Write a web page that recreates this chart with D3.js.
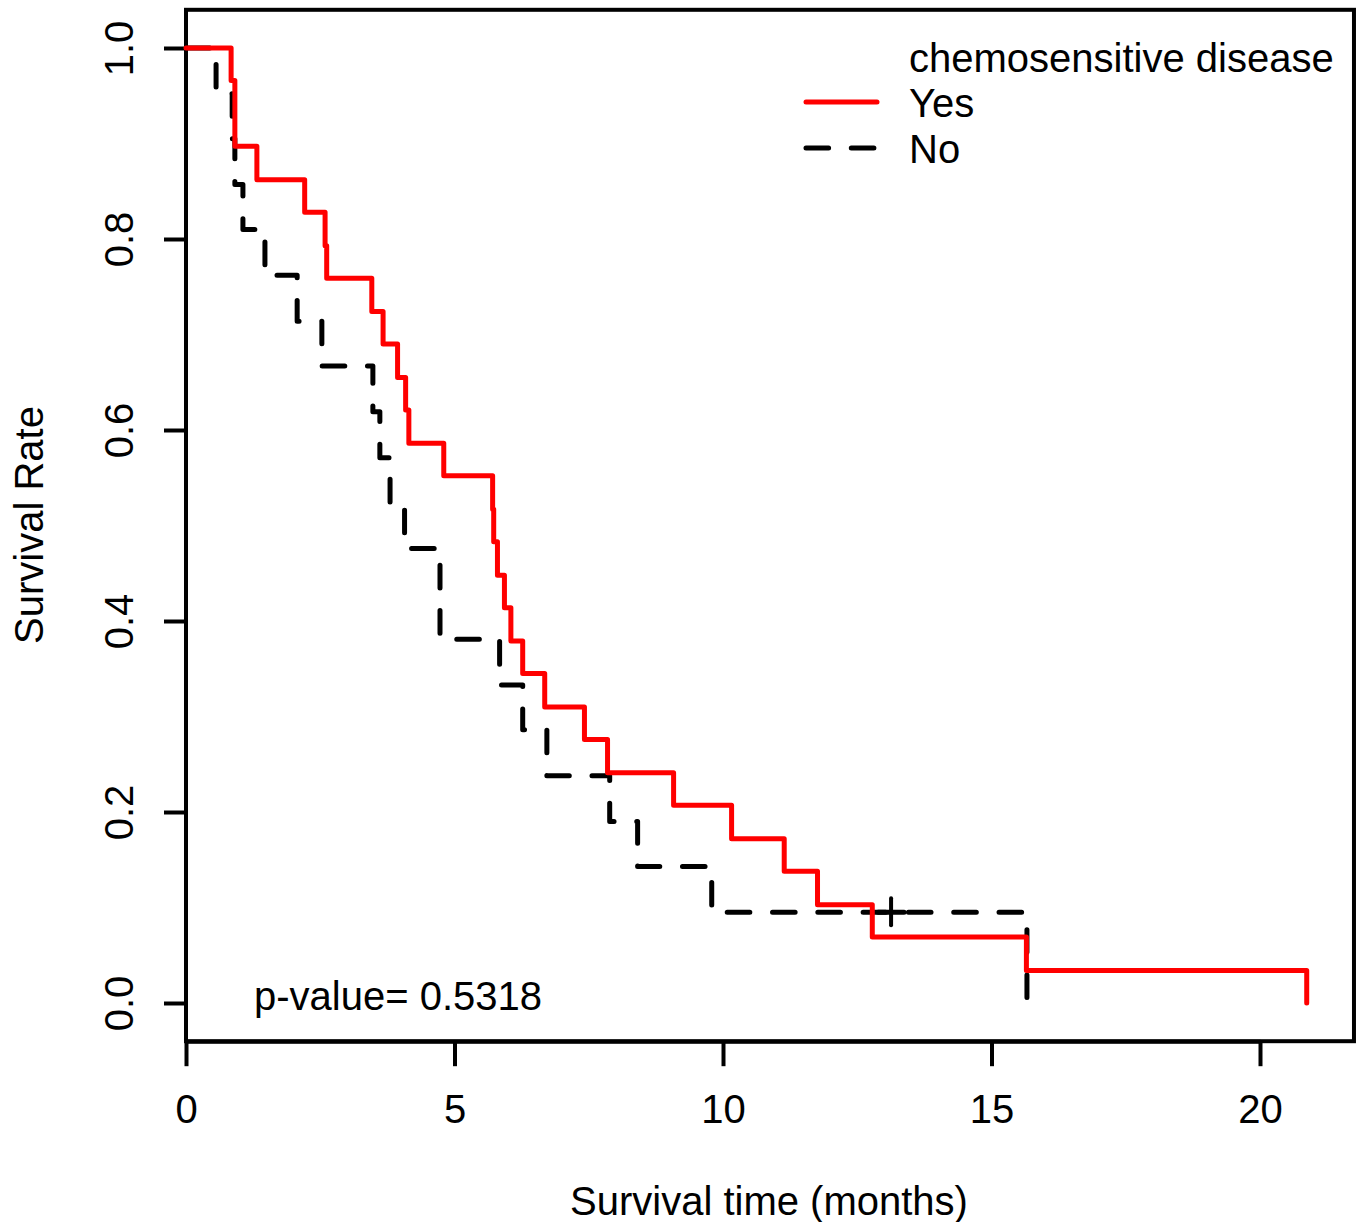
<!DOCTYPE html>
<html>
<head>
<meta charset="utf-8">
<script src="https://cdn.jsdelivr.net/npm/d3@7"></script>
<style>
  body { margin: 0; background: #fff; }
  svg text { font-family: "Liberation Sans", Arial, sans-serif; fill: #000; }
</style>
</head>
<body>
<div class="chart"></div>
<script>
// Kaplan-Meier estimates (months, survival)
var yesTime = [0, 0.84, 0.91, 1.32, 2.21, 2.59, 2.62, 3.46, 3.67, 3.94, 4.09, 4.15, 4.80, 5.71, 5.73,
  5.80, 5.93, 6.05, 6.27, 6.68, 7.42, 7.85, 9.08, 10.16, 11.14, 11.76, 12.78, 15.65, 20.87];
var yesSurv = [1, 0.966, 0.897, 0.862, 0.828, 0.793, 0.759, 0.724, 0.690, 0.655, 0.621, 0.586, 0.552, 0.517, 0.483,
  0.448, 0.414, 0.379, 0.345, 0.310, 0.276, 0.241, 0.207, 0.172, 0.138, 0.103, 0.069, 0.034, 0];

var noTime = [0, 0.56, 0.86, 0.91, 1.06, 1.47, 2.07, 2.53, 3.48, 3.61, 3.80, 4.07, 4.73, 5.84, 6.27,
  6.72, 7.89, 8.41, 9.79, 15.66];
var noSurv = [1, 0.952, 0.905, 0.857, 0.810, 0.762, 0.714, 0.667, 0.619, 0.571, 0.524, 0.476, 0.381, 0.333, 0.286,
  0.238, 0.190, 0.143, 0.095, 0];
var noCensorTime = [13.13];
var noCensorSurv = [0.095];

var xTicks = [0, 5, 10, 15, 20];
var yTicks = [0, 0.2, 0.4, 0.6, 0.8, 1.0];
var legendTitle = "chemosensitive disease";
var legendLabels = ["Yes", "No"];
var pText = "p-value= 0.5318";

var width = 1361;
var height = 1222;
var fontSize = 40;
var dash = "22.6,22.7";

var x = d3.scaleLinear().domain([0, 20]).range([186, 1260]);
var y = d3.scaleLinear().domain([0, 1]).range([1003, 48]);

var svg = d3.select(".chart")
    .append("svg")
    .attr("width", width)
    .attr("height", height);

svg.append("rect")
    .attr("width", width)
    .attr("height", height)
    .attr("fill", "#fff");

// plot box
svg.append("rect")
    .attr("x", x(0))
    .attr("y", y(1.04))
    .attr("width", x(21.75) - x(0))
    .attr("height", y(-0.04) - y(1.04))
    .attr("fill", "none")
    .attr("stroke", "#000")
    .attr("stroke-width", 4);

// x axis
var gx = svg.append("g")
    .attr("transform", "translate(0," + y(-0.04) + ")")
    .call(d3.axisBottom(x).tickValues(xTicks).tickSize(25).tickSizeOuter(0));
gx.select(".domain").attr("stroke-width", 4);
gx.selectAll(".tick line").attr("stroke-width", 4);
gx.selectAll(".tick text")
    .attr("y", 82)
    .attr("dy", null)
    .style("font-size", fontSize + "px")
    .style("font-family", "Liberation Sans, Arial, sans-serif");

// y axis
var gy = svg.append("g")
    .attr("transform", "translate(" + x(0) + ",0)")
    .call(d3.axisLeft(y).tickValues(yTicks).tickSize(22).tickSizeOuter(0).tickFormat(d3.format(".1f")));
gy.select(".domain").remove();
gy.selectAll(".tick line").attr("stroke-width", 4);
gy.selectAll(".tick text")
    .attr("x", null)
    .attr("dy", null)
    .attr("text-anchor", "middle")
    .attr("transform", "translate(-53,0) rotate(-90)")
    .style("font-size", fontSize + "px")
    .style("font-family", "Liberation Sans, Arial, sans-serif");

// axis titles
svg.append("text")
    .attr("x", 769)
    .attr("y", 1215)
    .attr("text-anchor", "middle")
    .style("font-size", fontSize + "px")
    .text("Survival time (months)");

svg.append("text")
    .attr("transform", "translate(43,525) rotate(-90)")
    .attr("text-anchor", "middle")
    .style("font-size", fontSize + "px")
    .text("Survival Rate");

// survival curves
var step = d3.line()
    .x(function (d) { return x(d[0]); })
    .y(function (d) { return y(d[1]); })
    .curve(d3.curveStepAfter);

var yesData = yesTime.map(function (t, i) { return [t, yesSurv[i]]; });
var noData = noTime.map(function (t, i) { return [t, noSurv[i]]; });

// "No" first, red drawn over it
svg.append("path")
    .datum(noData)
    .attr("d", step)
    .attr("fill", "none")
    .attr("stroke", "#000")
    .attr("stroke-width", 5)
    .attr("stroke-dasharray", dash)
    .attr("stroke-dashoffset", -1.2)
    .attr("stroke-linecap", "round")
    .attr("stroke-linejoin", "round");

// censor marks
var cens = svg.append("g");
noCensorTime.forEach(function (t, i) {
    cens.append("line")
        .attr("x1", x(t)).attr("x2", x(t))
        .attr("y1", y(noCensorSurv[i]) - 14).attr("y2", y(noCensorSurv[i]) + 13)
        .attr("stroke", "#000").attr("stroke-width", 4).attr("stroke-linecap", "round");
    cens.append("line")
        .attr("x1", x(t) - 13).attr("x2", x(t) + 13)
        .attr("y1", y(noCensorSurv[i])).attr("y2", y(noCensorSurv[i]))
        .attr("stroke", "#000").attr("stroke-width", 5).attr("stroke-linecap", "round");
});

svg.append("path")
    .datum(yesData)
    .attr("d", step)
    .attr("fill", "none")
    .attr("stroke", "#ff0000")
    .attr("stroke-width", 5)
    .attr("stroke-linecap", "round")
    .attr("stroke-linejoin", "round");

// legend
var legend = svg.append("g");
legend.append("text")
    .attr("x", 909)
    .attr("y", 72)
    .style("font-size", fontSize + "px")
    .text(legendTitle);

var legendStyles = [
    { color: "#ff0000", dash: null },
    { color: "#000", dash: dash }
];
legendLabels.forEach(function (lab, i) {
    var ly = 102 + i * 46;
    legend.append("line")
        .attr("x1", 806).attr("x2", 877)
        .attr("y1", ly).attr("y2", ly)
        .attr("stroke", legendStyles[i].color)
        .attr("stroke-width", 5)
        .attr("stroke-linecap", "round")
        .attr("stroke-dasharray", legendStyles[i].dash);
    legend.append("text")
        .attr("x", 909)
        .attr("y", ly + 15)
        .style("font-size", fontSize + "px")
        .text(lab);
});

// p-value
svg.append("text")
    .attr("x", 254)
    .attr("y", 1010)
    .style("font-size", fontSize + "px")
    .text(pText);
</script>
</body>
</html>
